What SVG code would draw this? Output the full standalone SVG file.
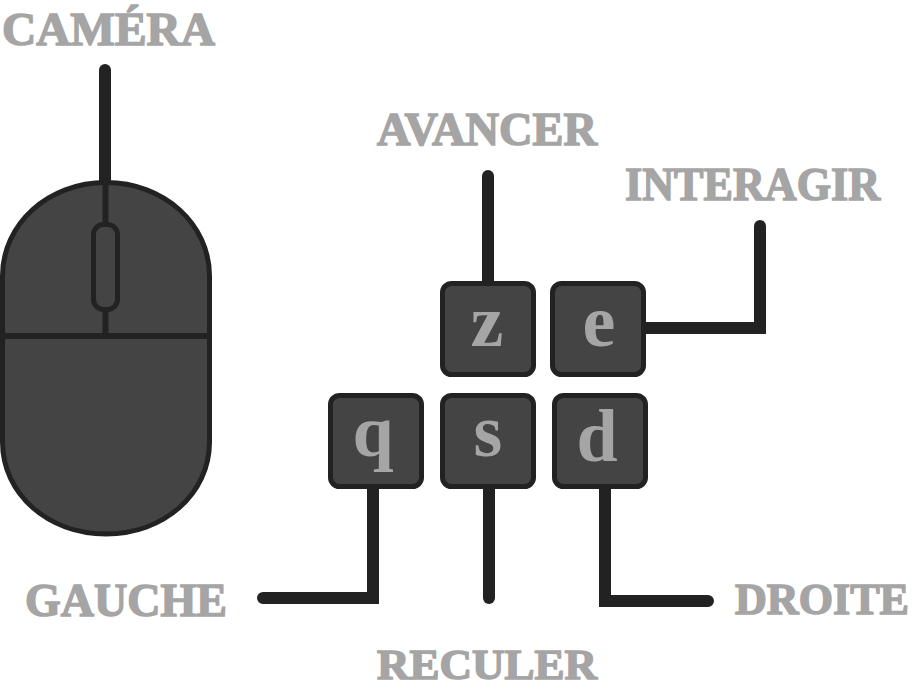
<svg xmlns="http://www.w3.org/2000/svg" width="912" height="689" viewBox="0 0 912 689">
<style>
.lbl{font-family:"Liberation Serif",serif;font-weight:700;font-size:46px;fill:#a5a5a5;stroke:#a5a5a5;stroke-width:1.500}
.key{fill:#444;stroke:#222;stroke-width:5}
.ch{font-family:"Liberation Serif",serif;font-weight:700;font-size:74px;fill:#a5a5a5;text-anchor:middle}
.con{fill:none;stroke:#222;stroke-width:12;stroke-linecap:round;stroke-linejoin:miter}
.m{fill:#444;stroke:#222;stroke-width:5}
.t{fill:none;stroke:#222;stroke-width:6}
</style>
<rect width="912" height="689" fill="#fff"/>
<g id="connectors">
<path class="con" d="M105 70V190"/>
<path class="con" d="M488 176V285"/>
<path class="con" d="M644 328H760V226"/>
<path class="con" d="M373 487V598H263"/>
<path class="con" d="M489 487V598"/>
<path class="con" d="M605 487V601H708"/>
</g>
<g id="mouse">
<path class="m" d="M2.500 276C2.500 224 48 182.500 106 182.500S209.500 224 209.500 276V442C209.500 494 164 534 106 534S2.500 494 2.500 442Z"/>
<path class="t" d="M105.500 182V224M105.500 310V336M2 336H210"/>
<rect class="m" x="93.500" y="224.500" width="24" height="85" rx="10"/>
</g>
<g id="key-z"><rect class="key" x="442.500" y="283.500" width="91" height="91" rx="9"/><text class="ch" x="487" y="346">z</text></g>
<g id="key-e"><rect class="key" x="552.500" y="283.500" width="91" height="91" rx="9"/><text class="ch" x="599" y="346">e</text></g>
<g id="key-q"><rect class="key" x="330.500" y="395.500" width="91" height="91" rx="9"/><text class="ch" x="373" y="456">q</text></g>
<g id="key-s"><rect class="key" x="442.500" y="395.500" width="91" height="91" rx="9"/><text class="ch" x="488" y="456">s</text></g>
<g id="key-d"><rect class="key" x="554.500" y="395.500" width="91" height="91" rx="9"/><text class="ch" x="597" y="461">d</text></g>
<g id="labels">
<text class="lbl" x="2" y="45" textLength="213" lengthAdjust="spacingAndGlyphs">CAMÉRA</text>
<text class="lbl" x="377" y="145" textLength="220" lengthAdjust="spacingAndGlyphs">AVANCER</text>
<text class="lbl" x="625" y="200" textLength="255" lengthAdjust="spacingAndGlyphs">INTERAGIR</text>
<text class="lbl" x="25" y="616" textLength="202" lengthAdjust="spacingAndGlyphs">GAUCHE</text>
<text class="lbl" x="735" y="614" textLength="174" lengthAdjust="spacingAndGlyphs" style="font-size:44px">DROITE</text>
<text class="lbl" x="377" y="679" textLength="220" lengthAdjust="spacingAndGlyphs" style="font-size:42px">RECULER</text>
</g>
</svg>
